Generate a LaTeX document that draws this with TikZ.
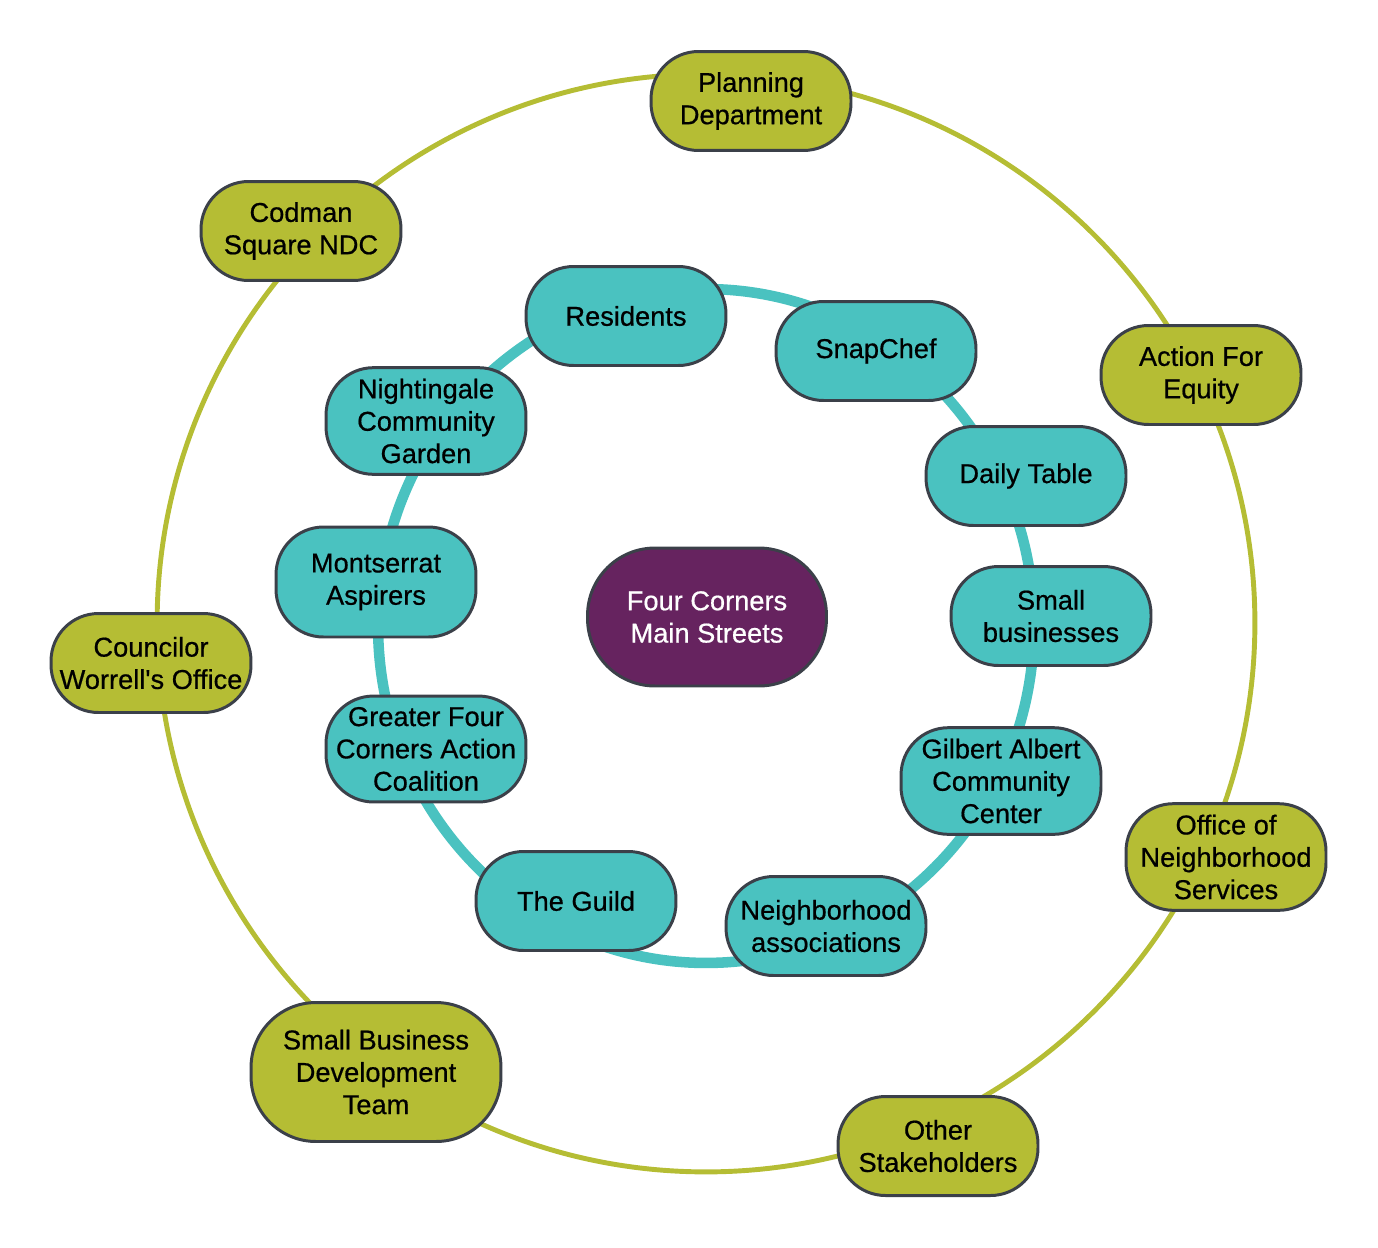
\documentclass[tikz,border=0pt]{standalone}
\usepackage{fontspec}
\setmainfont{Liberation Sans}[BoldFont={Liberation Sans}, BoldFeatures={FakeBold=0.6}]
\definecolor{partnerolive}{HTML}{B5BD34}
\definecolor{localteal}{HTML}{4AC2C0}
\definecolor{hubpurple}{HTML}{66235F}
\definecolor{darkline}{HTML}{3B4049}
\tikzset{
  ring/.style={draw=darkline, line width=1.7pt, rounded corners=0.95cm,
    minimum width=4cm, minimum height=1.98cm, inner ysep=0.22cm,
    align=center, font=\fontsize{15.5}{18.4}\selectfont\bfseries},
  partner/.style={ring, fill=partnerolive},
  local/.style={ring, fill=localteal},
  hub/.style={ring, fill=hubpurple, text=white, minimum width=4.78cm,
    minimum height=2.76cm, rounded corners=1.35cm},
}
\begin{document}
\begin{tikzpicture}[x=0.02cm, y=-0.02cm]
    \useasboundingbox (0,0) rectangle (1378,1247);
    % rings
    \draw[partnerolive, line width=2.8pt] (706,623) circle[radius=10.98cm];
    \draw[localteal, line width=6pt] (706,626) ellipse[x radius=6.56cm, y radius=6.74cm];
    % outer ring
    \node[partner] (planning) at (751,101) {Planning\\Department};
    \node[partner] (codman) at (301,231) {Codman\\Square NDC};
    \node[partner] (equity) at (1201,375) {Action For\\Equity};
    \node[partner] (councilor) at (151,663) {Councilor\\Worrell\textquotesingle s Office};
    \node[partner] (ons) at (1226,857) {Office of\\Neighborhood\\Services};
    \node[partner] (other) at (938,1146) {Other\\Stakeholders};
    \node[partner, minimum width=5cm, minimum height=2.78cm, rounded corners=1.3cm] (sbdt) at (376,1072) {Small Business\\Development\\Team};
    % inner ring
    \node[local] (residents) at (626,316) {Residents};
    \node[local] (snapchef) at (876,351) {SnapChef};
    \node[local] (nightingale) at (426,421) {Nightingale\\Community\\Garden};
    \node[local] (dailytable) at (1026,476) {Daily Table};
    \node[local, minimum height=2.2cm] (montserrat) at (376,582) {Montserrat\\Aspirers};
    \node[local] (smallbiz) at (1051,616) {Small\\businesses};
    \node[local] (greater) at (426,749) {Greater Four\\Corners Action\\Coalition};
    \node[local] (gilbert) at (1001,781) {Gilbert Albert\\Community\\Center};
    \node[local] (guild) at (576,901) {The Guild};
    \node[local] (assoc) at (826,926) {Neighborhood\\associations};
    % centre
    \node[hub] (fourcorners) at (707,617) {Four Corners\\Main Streets};
\end{tikzpicture}
\end{document}
